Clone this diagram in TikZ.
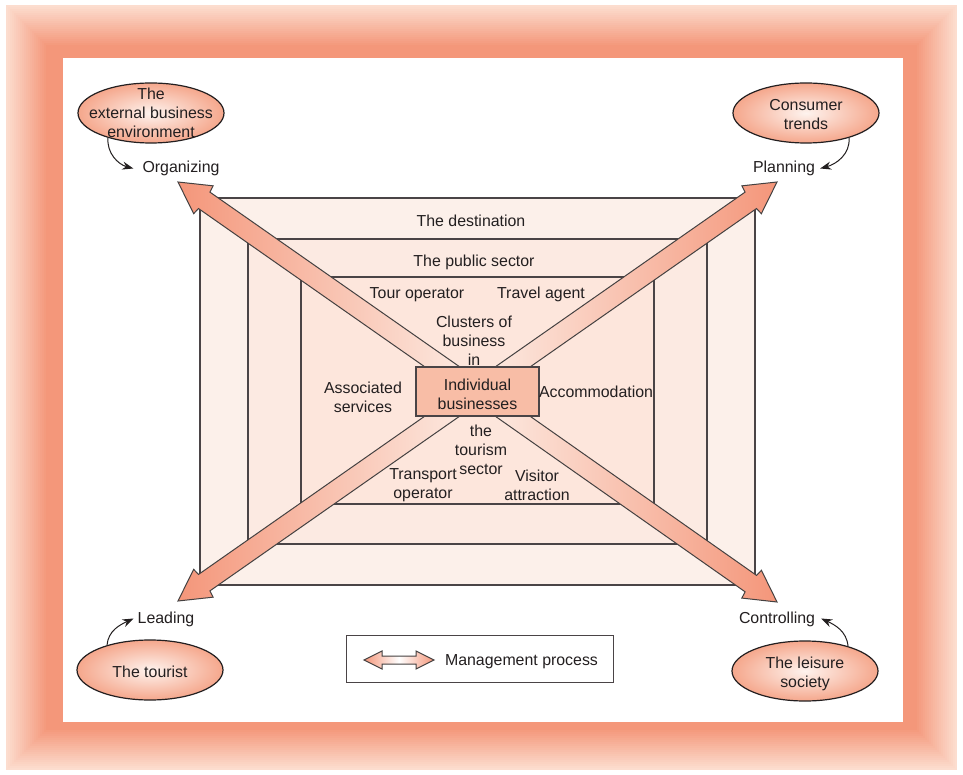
\documentclass[tikz,border=0pt]{standalone}
\usepackage{fontspec}
\setmainfont{Liberation Sans}
\usetikzlibrary{calc,shapes.geometric,arrows.meta}

\definecolor{ink}{HTML}{231F20}
\definecolor{rule}{HTML}{4A4446}
\definecolor{frameLight}{HTML}{FCDDCF}
\definecolor{frameDark}{HTML}{F4977A}
\definecolor{destFill}{HTML}{FCF0EA}
\definecolor{pubFill}{HTML}{FCEAE2}
\definecolor{coreFill}{HTML}{FDE6DC}
\definecolor{boxFill}{HTML}{F8BDA6}
\definecolor{arrowDark}{HTML}{F4967A}
\definecolor{arrowLight}{HTML}{FDEEE6}
\definecolor{ovalEdge}{HTML}{F5A78C}
\definecolor{ovalCore}{HTML}{FEF3EE}

\tikzset{
  lbl/.style={font=\fontsize{15.9}{19}\selectfont, text=ink, align=center, inner sep=0pt, yshift=-1.5pt},
  zone/.style={draw=rule, line width=1.3pt},
  oval/.style={ellipse, draw=ink, line width=1.2pt, inner sep=0pt,
    minimum width=146pt, minimum height=60pt, inner color=ovalCore, outer color=ovalEdge},
  hook/.style={draw=ink, line width=1pt, -{Stealth[length=11pt,width=8pt]}},
  mgmt/.style={draw=ink!85, line width=1pt, line join=miter},
}

% wide management-process arrow from #1 to the tip #2, shaded by #3
\newcommand\mgmtarrow[3]{%
  \coordinate (mgH) at ($(#2)!32pt!(#1)$);
  \coordinate (mgB) at ($(#2)!31pt!(#1)$);
  \shadedraw[mgmt, #3]
    ($(#1)!10pt!90:(#2)$) -- ($(mgH)!10pt!90:(#2)$) -- ($(mgB)!17pt!90:(#2)$) -- (#2)
    -- ($(mgB)!17pt!-90:(#2)$) -- ($(mgH)!10pt!-90:(#2)$) -- ($(#1)!10pt!-90:(#2)$) -- cycle;}

\begin{document}
\begin{tikzpicture}[x=1pt,y=1pt]
\useasboundingbox (0,0) rectangle (963,-775);
\fill[white] (0,0) rectangle (963,-775);

% soft salmon frame
\foreach \i in {0,...,20}{
  \pgfmathsetmacro\d{2*\i}
  \pgfmathtruncatemacro\p{5*\i}
  \fill[frameDark!\p!frameLight] (6+\d,-5-\d) rectangle (957-\d,-770+\d);
}
\fill[white] (63,-58) rectangle (903,-722);

% nested zones
\draw[zone, fill=destFill] (200,-198) rectangle (755,-585);
\draw[zone, fill=pubFill] (248,-239) rectangle (707,-544);
\draw[zone, fill=coreFill] (301,-277) rectangle (654,-504);

% management-process arrows
\coordinate (hub) at (477.5,-391.5);
\coordinate (tipTL) at (178,-182);
\coordinate (tipTR) at (777,-182);
\coordinate (tipBL) at (178,-601);
\coordinate (tipBR) at (777,-602);
\mgmtarrow{hub}{tipTL}{left color=arrowDark, right color=arrowLight}
\mgmtarrow{hub}{tipBL}{left color=arrowDark, right color=arrowLight}
\mgmtarrow{hub}{tipTR}{left color=arrowLight, right color=arrowDark}
\mgmtarrow{hub}{tipBR}{left color=arrowLight, right color=arrowDark}

% centre box
\node[draw=rule, line width=1.3pt, fill=boxFill, minimum width=123pt, minimum height=49pt, inner sep=0pt]
  (ib) at (hub) {};
\node[lbl] (ibT) at (477.5,-392.5) {Individual\\businesses};

% zone labels
\node[lbl] (dest) at (471,-219) {The destination};
\node[lbl] (pub) at (474,-261) {The public sector};
\node[lbl] (tour) at (417,-293) {Tour operator};
\node[lbl] (travel) at (541,-293) {Travel agent};
\node[lbl] (clusters) at (474,-339) {Clusters of\\business\\in};
\node[lbl] (assoc) at (363,-396) {Associated\\services};
\node[lbl] (accom) at (596,-390) {Accommodation};
\node[lbl] (tourism) at (481,-448) {the\\tourism\\sector};
\node[lbl] (transport) at (423,-484) {Transport\\operator};
\node[lbl] (visitor) at (537,-484) {Visitor\\attraction};

% management functions
\node[lbl] (org) at (181,-167) {Organizing};
\node[lbl] (plan) at (784,-167) {Planning};
\node[lbl] (lead) at (166,-618) {Leading};
\node[lbl] (ctrl) at (777,-618) {Controlling};

% influences
\node[oval] (ebe) at (151,-113) {};
\node[lbl] (ebeT) at (151,-111) {The\\external business\\environment};
\node[oval] (ct) at (806,-113) {};
\node[lbl] (ctT) at (806,-113) {Consumer\\trends};
\node[oval] (tt) at (150,-670) {};
\node[lbl] (ttT) at (150,-670) {The tourist};
\node[oval] (ls) at (805,-671) {};
\node[lbl] (lsT) at (805,-672) {The leisure\\society};

\draw[hook] (ebe.210) to[out=-95, in=165] ([xshift=-9pt]org.west);
\draw[hook] (ct.-30) to[out=-85, in=15] ([xshift=5pt]plan.east);
\draw[hook] (tt.150) to[out=85, in=205] ([xshift=-4pt,yshift=1pt]lead.west);
\draw[hook] (ls.30) to[out=95, in=-25] ([xshift=6pt,yshift=1pt]ctrl.east);

% key
\node[draw=rule, line width=1pt, minimum width=267pt, minimum height=47pt, inner sep=0pt]
  (key) at (479.5,-658.5) {};
\coordinate (keyL) at (364,-660);
\shadedraw[mgmt, left color=arrowDark, right color=arrowDark, middle color=white]
  (keyL) -- ++(18,9) -- ++(0,-5) -- ++(34,0) -- ++(0,5) -- ++(18,-9)
  -- ++(-18,-9) -- ++(0,5) -- ++(-34,0) -- ++(0,-5) -- cycle;
\node[lbl] (keyT) at (521.5,-660) {Management process};
\end{tikzpicture}
\end{document}
